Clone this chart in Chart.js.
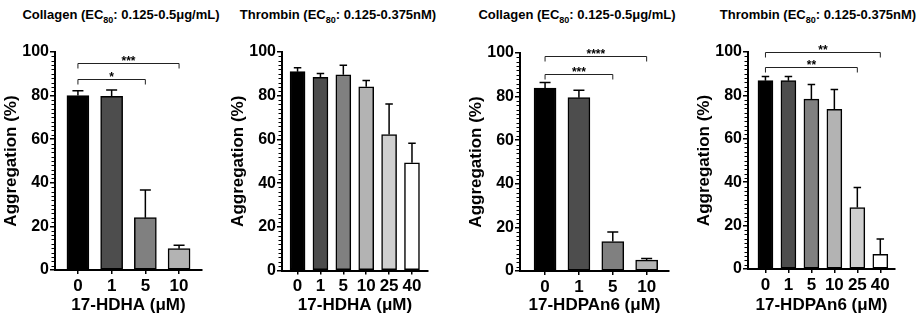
<!DOCTYPE html>
<html>
<head>
<meta charset="utf-8">
<script src="https://cdn.jsdelivr.net/npm/chart.js@4.4.1/dist/chart.umd.min.js"></script>
<style>
  body { margin: 0; background: #fff; width: 920px; height: 320px; position: relative; overflow: hidden; font-family: 'Liberation Sans', Arial, sans-serif; }
  canvas { position: absolute; top: 0; }
  .ttl { position: absolute; top: 7px; font-weight: bold; font-size: 13px; line-height: 15px; white-space: nowrap; transform: translateX(-50%); color: #000; }
  .ttl sub { font-size: 9px; line-height: 0; }
</style>
</head>
<body>
<div class="ttl" style="left:121px">Collagen (EC<sub>80</sub>: 0.125-0.5μg/mL)</div>
<div class="ttl" style="left:338px">Thrombin (EC<sub>80</sub>: 0.125-0.375nM)</div>
<div class="ttl" style="left:577px">Collagen (EC<sub>80</sub>: 0.125-0.5μg/mL)</div>
<div class="ttl" style="left:818px">Thrombin (EC<sub>80</sub>: 0.125-0.375nM)</div>

<canvas id="c1" width="205" height="320" style="left:1px"></canvas>
<canvas id="c2" width="204" height="320" style="left:228px"></canvas>
<canvas id="c3" width="207" height="320" style="left:466px"></canvas>
<canvas id="c4" width="205" height="320" style="left:694px"></canvas>

<script>
// doses (x tick labels)
const collagenDoses = ['0', '1', '5', '10'];
const thrombinDoses = ['0', '1', '5', '10', '25', '40'];

// 17-HDHA
const hdhaCollagenMean = [80.0, 79.7, 24.0, 9.8];
const hdhaCollagenErr = [2.2, 2.9, 12.7, 1.5];
const hdhaThrombinMean = [91.0, 88.4, 89.6, 84.1, 62.2, 49.3];
const hdhaThrombinErr = [1.8, 1.8, 4.3, 2.8, 14.0, 8.9];

// 17-HDPAn6
const hdpaCollagenMean = [83.9, 79.5, 13.5, 5.0];
const hdpaCollagenErr = [2.6, 3.4, 4.4, 0.7];
const hdpaThrombinMean = [86.8, 86.8, 78.3, 73.6, 28.3, 6.8];
const hdpaThrombinErr = [1.9, 1.9, 6.7, 9.1, 9.3, 7.0];

// significance brackets (bar index from/to, level in %)
const hdhaCollagenSig = [{ from: 0, to: 3, y: 95.1, label: '***' }, { from: 0, to: 2, y: 87.5, label: '*' }];
const hdpaCollagenSig = [{ from: 0, to: 3, y: 98.5, label: '****' }, { from: 0, to: 2, y: 90.4, label: '***' }];
const hdpaThrombinSig = [{ from: 0, to: 5, y: 100.1, label: '**' }, { from: 0, to: 4, y: 93.2, label: '**' }];

const grays4 = ['#000000', '#4d4d4d', '#808080', '#b3b3b3'];
const grays6 = ['#000000', '#4d4d4d', '#808080', '#b3b3b3', '#cfcfcf', '#ffffff'];
const FONT = "'Liberation Sans', Arial, sans-serif";

function makeChart(id, labels, means, errs, colors, sig, xTitle, cfg) {
  // error bars, brackets and minor y ticks
  const overlay = {
    id: 'overlay',
    afterDatasetsDraw(chart) {
      const xs = chart.scales.x, ys = chart.scales.y, ctx = chart.ctx;
      ctx.save();
      ctx.strokeStyle = '#000';
      ctx.lineWidth = 1.5;
      means.forEach((m, i) => {
        const px = xs.getPixelForValue(i);
        const y0 = ys.getPixelForValue(m);
        const y1 = ys.getPixelForValue(m + errs[i]);
        const cw = cfg.bar / 4;
        ctx.beginPath();
        ctx.moveTo(px, y0); ctx.lineTo(px, y1);
        ctx.moveTo(px - cw, y1); ctx.lineTo(px + cw, y1);
        ctx.stroke();
      });
      ctx.lineWidth = 1;
      ctx.strokeStyle = '#222';
      ctx.fillStyle = '#000';
      ctx.font = 'bold 12px ' + FONT;
      ctx.textAlign = 'center';
      ctx.textBaseline = 'alphabetic';
      sig.forEach(b => {
        const x1 = xs.getPixelForValue(b.from), x2 = xs.getPixelForValue(b.to);
        const py = Math.round(ys.getPixelForValue(b.y)) + 0.5;
        ctx.beginPath();
        ctx.moveTo(x1, py + 5); ctx.lineTo(x1, py); ctx.lineTo(x2, py); ctx.lineTo(x2, py + 5);
        ctx.stroke();
        ctx.fillText(b.label, (x1 + x2) / 2, py + 1);
      });
      ctx.restore();
    },
    afterDraw(chart) {
      const ys = chart.scales.y, x0 = chart.chartArea.left, ctx = chart.ctx;
      ctx.save();
      ctx.strokeStyle = '#000';
      ctx.lineWidth = 1;
      for (let v = 2; v < 100; v += 2) {
        if (v % 20 === 0) continue;
        const py = Math.round(ys.getPixelForValue(v)) + 0.5;
        ctx.beginPath(); ctx.moveTo(x0 - 3.5, py); ctx.lineTo(x0, py); ctx.stroke();
      }
      ctx.restore();
    }
  };

  return new Chart(document.getElementById(id), {
    type: 'bar',
    data: {
      datasets: [{
        data: means.map((m, i) => ({ x: i, y: m })),
        backgroundColor: colors,
        borderColor: '#000',
        borderWidth: 1.5,
        borderSkipped: false,
        barThickness: cfg.bar
      }]
    },
    options: {
      responsive: false,
      devicePixelRatio: 1,
      animation: false,
      layout: { padding: { top: cfg.top, right: 4, left: 0, bottom: 0 } },
      plugins: { legend: { display: false }, tooltip: { enabled: false } },
      scales: {
        x: {
          type: 'linear',
          offset: false,
          min: -cfg.padL,
          max: labels.length - 1 + cfg.padR,
          afterBuildTicks(s) { s.ticks = labels.map((_, i) => ({ value: i })); },
          afterFit(s) { s.height = cfg.xh; },
          ticks: {
            callback: v => labels[v],
            autoSkip: false, maxRotation: 0,
            color: '#000', padding: 2,
            font: { family: FONT, size: 17, weight: 'bold' }
          },
          grid: { offset: false, drawOnChartArea: false, tickLength: 4, color: '#000', lineWidth: 1.5 },
          border: { color: '#000', width: 2 },
          title: {
            display: true, text: xTitle, color: '#000',
            font: { family: FONT, size: 17, weight: 'bold' },
            padding: { top: 0, bottom: 4 }
          }
        },
        y: {
          min: 0, max: 100,
          afterFit(s) { s.width = 54; },
          ticks: {
            stepSize: 20, color: '#000', padding: 1,
            font: { family: FONT, size: 16, weight: 'bold' }
          },
          grid: { drawOnChartArea: false, tickLength: 5, color: '#000', lineWidth: 1.5 },
          border: { color: '#000', width: 2 },
          title: {
            display: true, text: 'Aggregation (%)', color: '#000',
            font: { family: FONT, size: 17, weight: 'bold' },
            padding: { top: 0, bottom: 0 }
          }
        }
      }
    },
    plugins: [overlay]
  });
}

makeChart('c1', collagenDoses, hdhaCollagenMean, hdhaCollagenErr, grays4, hdhaCollagenSig, '17-HDHA (μM)',
  { bar: 22, padL: 0.68, padR: 0.68, top: 52, xh: 50 });
makeChart('c2', thrombinDoses, hdhaThrombinMean, hdhaThrombinErr, grays6, [], '17-HDHA (μM)',
  { bar: 15, padL: 0.68, padR: 0.70, top: 52, xh: 49.5 });
makeChart('c3', collagenDoses, hdpaCollagenMean, hdpaCollagenErr, grays4, hdpaCollagenSig, '17-HDPAn6 (μM)',
  { bar: 22, padL: 0.74, padR: 0.66, top: 53, xh: 49 });
makeChart('c4', thrombinDoses, hdpaThrombinMean, hdpaThrombinErr, grays6, hdpaThrombinSig, '17-HDPAn6 (μM)',
  { bar: 15, padL: 0.76, padR: 0.64, top: 52, xh: 51 });
</script>
</body>
</html>
